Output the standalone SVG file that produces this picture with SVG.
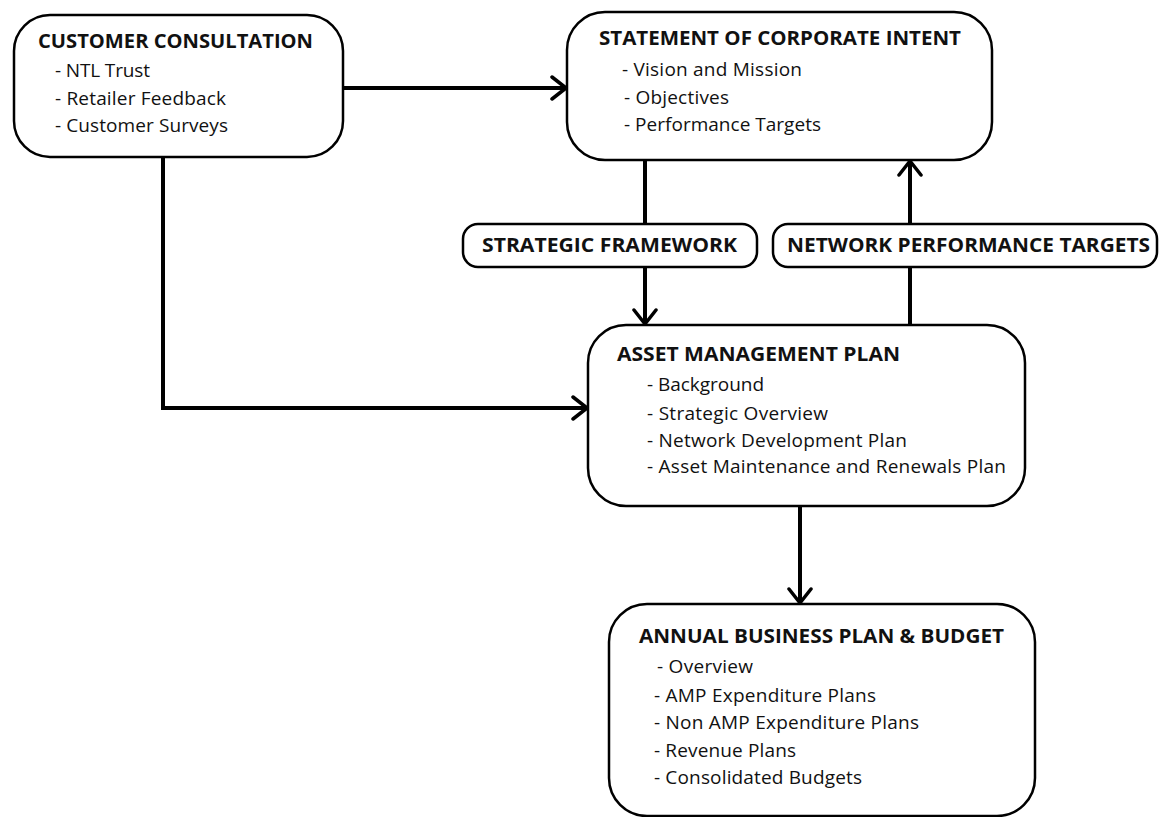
<svg xmlns="http://www.w3.org/2000/svg" width="1160" height="817" viewBox="0 0 1160 817">
<style>
.box{fill:#fff;stroke:#000;stroke-width:2.5}
.t{font-family:"Open Sans","Liberation Sans",sans-serif;font-weight:bold;font-size:19px;fill:#111}
.i{font-family:"Open Sans","Liberation Sans",sans-serif;font-size:19px;fill:#111}
.c{fill:none;stroke:#000;stroke-width:4}
</style>
<defs>
<marker id="ah" markerUnits="userSpaceOnUse" markerWidth="22" markerHeight="28" refX="17" refY="13" orient="auto">
<path d="M3,2 L17,13 L3,24" fill="none" stroke="#000" stroke-width="3.5" stroke-linecap="round" stroke-linejoin="round"/>
</marker>
</defs>
<rect width="1160" height="817" fill="#fff"/>
<g id="connectors">
<line class="c" x1="343" y1="88" x2="566" y2="88" marker-end="url(#ah)"/>
<polyline class="c" points="163,157 163,408 587,408" marker-end="url(#ah)"/>
<line class="c" x1="645" y1="160" x2="645" y2="224"/>
<line class="c" x1="645" y1="267" x2="645" y2="324" marker-end="url(#ah)"/>
<line class="c" x1="910" y1="325" x2="910" y2="267"/>
<line class="c" x1="910" y1="224" x2="910" y2="161" marker-end="url(#ah)"/>
<line class="c" x1="800" y1="506" x2="800" y2="603" marker-end="url(#ah)"/>
</g>
<g id="customer-consultation">
<rect class="box" x="14" y="15" width="329" height="142" rx="36"/>
<text class="t" x="38" y="48" textLength="275" lengthAdjust="spacingAndGlyphs">CUSTOMER CONSULTATION</text>
<text class="i" x="55" y="77" textLength="95">- NTL Trust</text>
<text class="i" x="55" y="105" textLength="171">- Retailer Feedback</text>
<text class="i" x="55" y="132" textLength="173">- Customer Surveys</text>
</g>
<g id="statement-of-corporate-intent">
<rect class="box" x="567" y="12" width="425" height="148" rx="38"/>
<text class="t" x="599" y="45" textLength="362" lengthAdjust="spacingAndGlyphs">STATEMENT OF CORPORATE INTENT</text>
<text class="i" x="622" y="76" textLength="180">- Vision and Mission</text>
<text class="i" x="624" y="104" textLength="105">- Objectives</text>
<text class="i" x="624" y="131" textLength="197">- Performance Targets</text>
</g>
<g id="strategic-framework">
<rect class="box" x="463" y="224" width="294" height="43" rx="15"/>
<text class="t" x="482" y="252" textLength="255" lengthAdjust="spacingAndGlyphs">STRATEGIC FRAMEWORK</text>
</g>
<g id="network-performance-targets">
<rect class="box" x="773" y="224" width="384" height="43" rx="15"/>
<text class="t" x="787" y="252" textLength="363" lengthAdjust="spacingAndGlyphs">NETWORK PERFORMANCE TARGETS</text>
</g>
<g id="asset-management-plan">
<rect class="box" x="588" y="325" width="437" height="181" rx="38"/>
<text class="t" x="617" y="361" textLength="283" lengthAdjust="spacingAndGlyphs">ASSET MANAGEMENT PLAN</text>
<text class="i" x="647" y="391" textLength="117">- Background</text>
<text class="i" x="647" y="420" textLength="181">- Strategic Overview</text>
<text class="i" x="647" y="447" textLength="260">- Network Development Plan</text>
<text class="i" x="647" y="473" textLength="359">- Asset Maintenance and Renewals Plan</text>
</g>
<g id="annual-business-plan">
<rect class="box" x="609" y="604" width="426" height="212" rx="38"/>
<text class="t" x="639" y="643" textLength="365" lengthAdjust="spacingAndGlyphs">ANNUAL BUSINESS PLAN &amp; BUDGET</text>
<text class="i" x="657" y="673" textLength="96">- Overview</text>
<text class="i" x="654" y="702" textLength="222">- AMP Expenditure Plans</text>
<text class="i" x="654" y="729" textLength="265">- Non AMP Expenditure Plans</text>
<text class="i" x="654" y="757" textLength="142">- Revenue Plans</text>
<text class="i" x="654" y="784" textLength="208">- Consolidated Budgets</text>
</g>
</svg>
